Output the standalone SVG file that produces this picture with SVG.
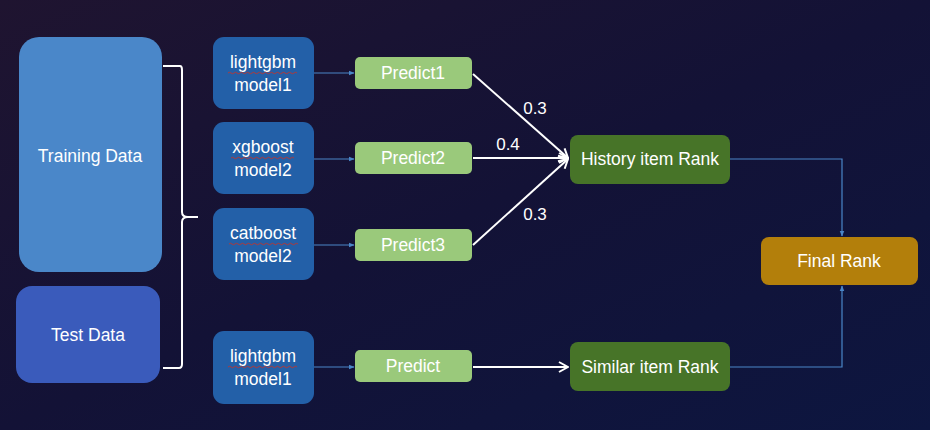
<svg xmlns="http://www.w3.org/2000/svg" width="930" height="430" viewBox="0 0 930 430">
<defs>
<linearGradient id="bg" x1="0" y1="0" x2="1" y2="1">
<stop offset="0" stop-color="#1f1430"/>
<stop offset="0.5" stop-color="#131236"/>
<stop offset="1" stop-color="#0d1640"/>
</linearGradient>
<marker id="blueArrow" viewBox="0 0 10 10" refX="9" refY="5" markerWidth="6" markerHeight="6" orient="auto" markerUnits="userSpaceOnUse">
<path d="M0,1 L10,5 L0,9 Z" fill="#4a86c8"/>
</marker>
<marker id="whiteArrow" viewBox="0 0 12 12" refX="11" refY="6" markerWidth="12" markerHeight="12" orient="auto" markerUnits="userSpaceOnUse">
<path d="M2,1 L11,6 L2,11" fill="none" stroke="#ffffff" stroke-width="2"/>
</marker>
</defs>
<style>
text { font-family: "Liberation Sans", Arial, sans-serif; fill: #ffffff; font-size: 17.5px; text-anchor: middle; dominant-baseline: central; }
.data1 { fill: #4a87c9; }
.data2 { fill: #3a5bbb; }
.model { fill: #2360a8; }
.pred { fill: #9ac97b; }
.rank { fill: #477428; }
.final { fill: #b37f0b; }
.blue { stroke: #4a86c8; stroke-width: 1.2; fill: none; }
.white { stroke: #ffffff; stroke-width: 2; fill: none; }
.squig { stroke: #b03a3a; stroke-width: 1; fill: none; }
.lbl { font-size: 17px; }
</style>
<rect x="0" y="0" width="930" height="430" fill="url(#bg)"/>

<g id="training-data">
<rect class="data1" x="19" y="37" width="143" height="235" rx="20"/>
<text x="90" y="156">Training Data</text>
</g>
<g id="test-data">
<rect class="data2" x="16" y="286" width="144" height="97" rx="16"/>
<text x="88" y="335">Test Data</text>
</g>
<g id="brace">
<path class="white" stroke-width="1.5" d="M163,66 H180 Q182,66 182,70 V212 Q182,217 188,217 H198 M188,217 Q182,217 182,222 V364 Q182,368 179,368 H163"/>
</g>

<g id="model-lightgbm1">
<rect class="model" x="213" y="37" width="101" height="72" rx="11"/>
<text x="263" y="62">lightgbm</text>
<text x="263" y="85">model1</text>
<path class="squig" d="M228,73 q1.5,-1.5 3,0 t3,0 t3,0 t3,0 t3,0 t3,0 t3,0 t3,0 t3,0 t3,0 t3,0 t3,0 t3,0 t3,0 t3,0 t3,0 t3,0 t3,0 t3,0 t3,0 t3,0 t3,0 t3,0"/>
</g>
<g id="model-xgboost2">
<rect class="model" x="213" y="122" width="101" height="72" rx="11"/>
<text x="263" y="147">xgboost</text>
<text x="263" y="170">model2</text>
<path class="squig" d="M231,158 q1.5,-1.5 3,0 t3,0 t3,0 t3,0 t3,0 t3,0 t3,0 t3,0 t3,0 t3,0 t3,0 t3,0 t3,0 t3,0 t3,0 t3,0 t3,0 t3,0 t3,0 t3,0 t3,0"/>
</g>
<g id="model-catboost2">
<rect class="model" x="213" y="208" width="101" height="72" rx="11"/>
<text x="263" y="233">catboost</text>
<text x="263" y="256">model2</text>
<path class="squig" d="M229,244 q1.5,-1.5 3,0 t3,0 t3,0 t3,0 t3,0 t3,0 t3,0 t3,0 t3,0 t3,0 t3,0 t3,0 t3,0 t3,0 t3,0 t3,0 t3,0 t3,0 t3,0 t3,0 t3,0 t3,0 t3,0"/>
</g>
<g id="model-lightgbm1-b">
<rect class="model" x="213" y="331" width="101" height="73" rx="11"/>
<text x="263" y="356">lightgbm</text>
<text x="263" y="379">model1</text>
<path class="squig" d="M228,367 q1.5,-1.5 3,0 t3,0 t3,0 t3,0 t3,0 t3,0 t3,0 t3,0 t3,0 t3,0 t3,0 t3,0 t3,0 t3,0 t3,0 t3,0 t3,0 t3,0 t3,0 t3,0 t3,0 t3,0 t3,0"/>
</g>

<g id="predict1">
<rect class="pred" x="355" y="57" width="117" height="32" rx="5"/>
<text x="413" y="73">Predict1</text>
</g>
<g id="predict2">
<rect class="pred" x="355" y="142" width="117" height="32" rx="5"/>
<text x="413" y="158">Predict2</text>
</g>
<g id="predict3">
<rect class="pred" x="355" y="229" width="117" height="32" rx="5"/>
<text x="413" y="245">Predict3</text>
</g>
<g id="predict">
<rect class="pred" x="355" y="350" width="117" height="32" rx="5"/>
<text x="413" y="366">Predict</text>
</g>

<g id="history-rank">
<rect class="rank" x="570" y="135" width="160" height="49" rx="8"/>
<text x="650" y="159">History item Rank</text>
</g>
<g id="similar-rank">
<rect class="rank" x="570" y="342" width="160" height="49" rx="8"/>
<text x="650" y="367">Similar item Rank</text>
</g>
<g id="final-rank">
<rect class="final" x="761" y="237" width="157" height="48" rx="8"/>
<text x="839" y="261">Final Rank</text>
</g>

<g id="connectors">
<line class="blue" x1="314" y1="73" x2="354" y2="73" marker-end="url(#blueArrow)"/>
<line class="blue" x1="314" y1="159" x2="354" y2="159" marker-end="url(#blueArrow)"/>
<line class="blue" x1="314" y1="245" x2="354" y2="245" marker-end="url(#blueArrow)"/>
<line class="blue" x1="314" y1="367" x2="354" y2="367" marker-end="url(#blueArrow)"/>
<line class="white" x1="473" y1="74" x2="568" y2="158" marker-end="url(#whiteArrow)"/>
<line class="white" x1="473" y1="158" x2="568" y2="158" marker-end="url(#whiteArrow)"/>
<line class="white" x1="473" y1="245" x2="568" y2="159" marker-end="url(#whiteArrow)"/>
<line class="white" x1="473" y1="367" x2="568" y2="367" marker-end="url(#whiteArrow)"/>
<polyline class="blue" points="730,159 842,159 842,236" marker-end="url(#blueArrow)"/>
<polyline class="blue" points="730,367 842,367 842,286" marker-end="url(#blueArrow)"/>
<text class="lbl" x="535" y="108">0.3</text>
<text class="lbl" x="508" y="144">0.4</text>
<text class="lbl" x="535" y="214">0.3</text>
</g>
</svg>
